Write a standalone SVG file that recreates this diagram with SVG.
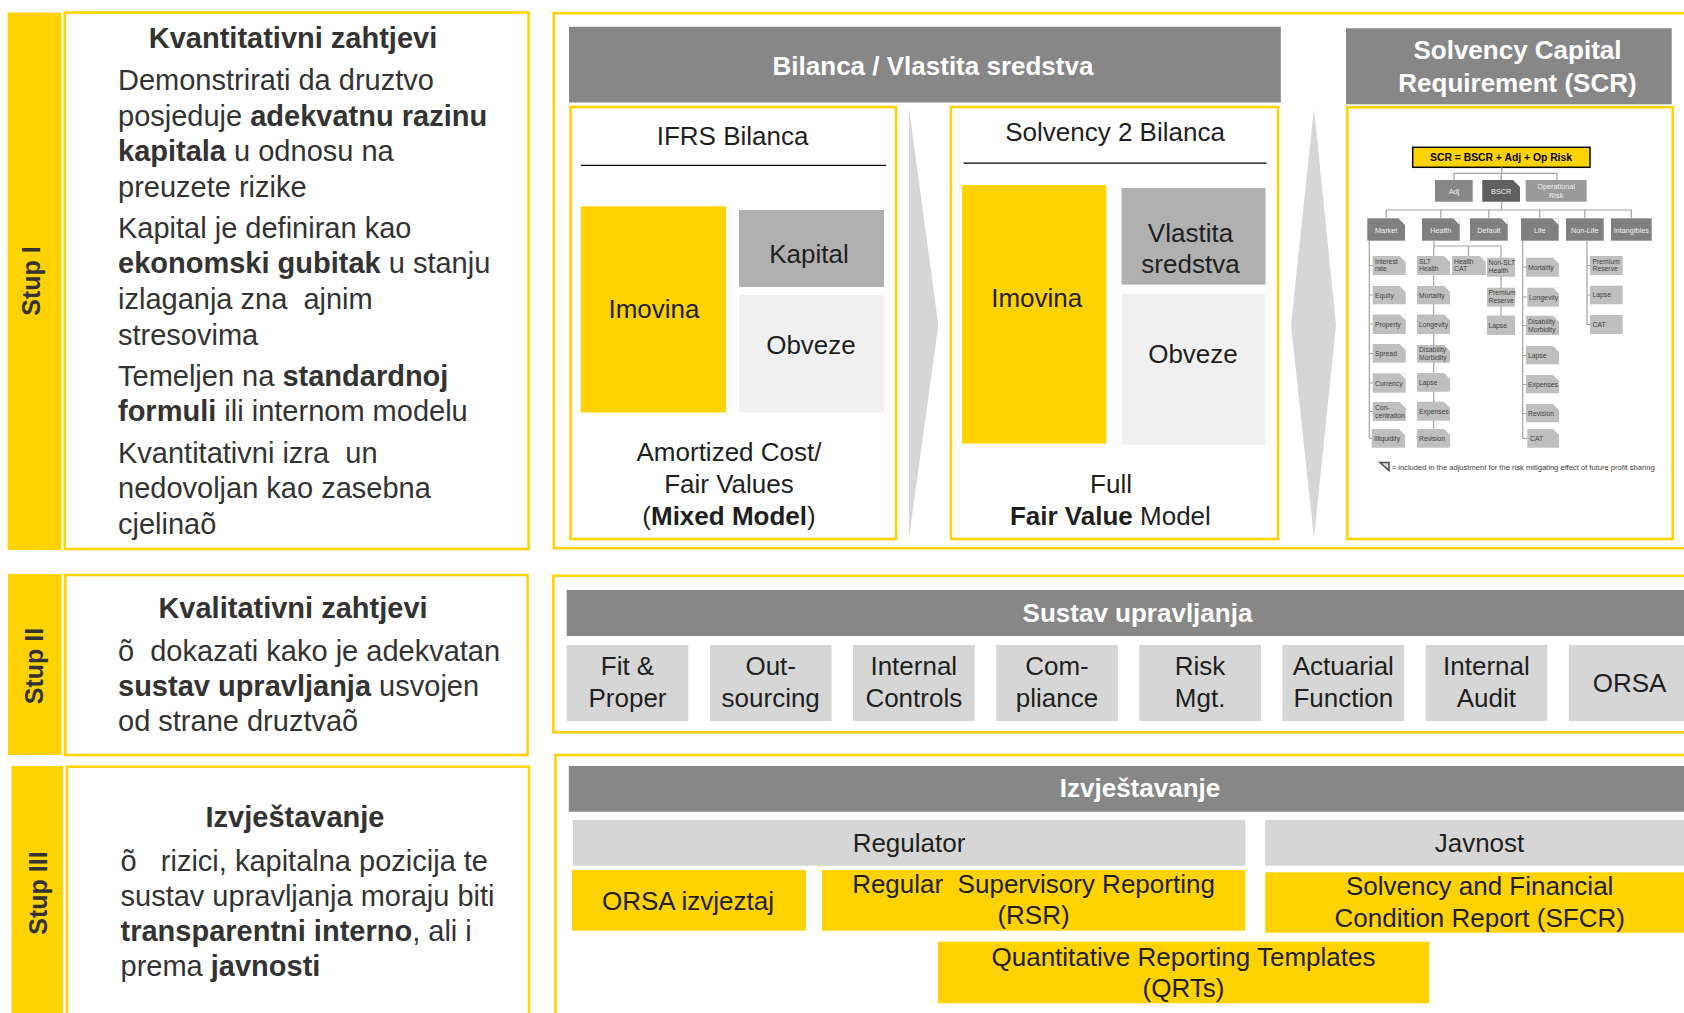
<svg xmlns="http://www.w3.org/2000/svg" width="1684" height="1013" viewBox="0 0 1684 1013">
  <style>
    text { font-family: "Liberation Sans", Arial, Helvetica, sans-serif; }
    .bar { fill: #FFD200; }
    .frame { fill: #fff; stroke: #FFD200; stroke-width: 2.5; }
    .stup { font-size: 25px; font-weight: bold; fill: #333; text-anchor: middle; }
    .ttl { font-size: 29px; font-weight: bold; fill: #333; text-anchor: middle; }
    .bd { font-size: 29px; fill: #333; }
    .b { font-weight: bold; }
    .hdr { fill: #878787; }
    .hdrt { font-size: 26px; font-weight: bold; fill: #fff; text-anchor: middle; }
    .mt { font-size: 26px; fill: #1f1f1f; text-anchor: middle; }
    .yel { fill: #FFD200; }
    .kap { fill: #b0b0b0; }
    .obv { fill: #f0f0f0; }
    .item { fill: #d6d6d6; }
    .arrow { fill: #d6d6d6; }
    .rule { stroke: #000; stroke-width: 1.3; }
    .dk { fill: #808080; }
    .lf { fill: #bfbfbf; }
    .cn { fill: #fff; }
    .wt { font-size: 7.3px; fill: #f2f2f2; text-anchor: middle; }
    .lt { font-size: 6.8px; fill: #404040; }
    .conn { stroke: #a3a3a3; stroke-width: 1.2; fill: none; }
  </style>

  <!-- Pillar I -->
  <g id="stup1">
    <rect class="bar" x="7.6" y="12.5" width="53.7" height="537.5"/>
    <text class="stup" transform="translate(40 281) rotate(-90)" font-size="24">Stup I</text>
    <rect class="frame" x="64.7" y="12.5" width="463.9" height="536.5"/>
    <text class="ttl" x="293" y="48">Kvantitativni zahtjevi</text>
    <text class="bd" x="118" y="90">Demonstrirati da druztvo</text>
    <text class="bd" x="118" y="126">posjeduje <tspan class="b">adekvatnu razinu</tspan></text>
    <text class="bd" x="118" y="161"><tspan class="b">kapitala</tspan> u odnosu na</text>
    <text class="bd" x="118" y="197">preuzete rizike</text>
    <text class="bd" x="118" y="238">Kapital je definiran kao</text>
    <text class="bd" x="118" y="273"><tspan class="b">ekonomski gubitak</tspan> u stanju</text>
    <text class="bd" x="118" y="309">izlaganja zna&#160; ajnim</text>
    <text class="bd" x="118" y="345">stresovima</text>
    <text class="bd" x="118" y="386">Temeljen na <tspan class="b">standardnoj</tspan></text>
    <text class="bd" x="118" y="421"><tspan class="b">formuli</tspan> ili internom modelu</text>
    <text class="bd" x="118" y="463">Kvantitativni izra&#160; un</text>
    <text class="bd" x="118" y="498">nedovoljan kao zasebna</text>
    <text class="bd" x="118" y="534">cjelinaõ</text>
  </g>

  <!-- Pillar II -->
  <g id="stup2">
    <rect class="bar" x="8" y="574" width="53.6" height="181"/>
    <text class="stup" transform="translate(43 666) rotate(-90)">Stup II</text>
    <rect class="frame" x="65.3" y="575" width="462.3" height="180"/>
    <text class="ttl" x="293" y="618">Kvalitativni zahtjevi</text>
    <text class="bd" x="118" y="661">õ&#160; dokazati kako je adekvatan</text>
    <text class="bd" x="118" y="696"><tspan class="b">sustav upravljanja</tspan> usvojen</text>
    <text class="bd" x="118" y="731">od strane druztvaõ</text>
  </g>

  <!-- Pillar III -->
  <g id="stup3">
    <rect class="bar" x="11.5" y="766" width="51.5" height="260"/>
    <text class="stup" transform="translate(47 893) rotate(-90)" font-size="26">Stup III</text>
    <rect class="frame" x="67" y="766.7" width="462" height="270"/>
    <text class="ttl" x="295" y="827">Izvještavanje</text>
    <text class="bd" x="120.5" y="871">õ&#160;&#160; rizici, kapitalna pozicija te</text>
    <text class="bd" x="120.5" y="906">sustav upravljanja moraju biti</text>
    <text class="bd" x="120.5" y="941"><tspan class="b">transparentni interno</tspan>, ali i</text>
    <text class="bd" x="120.5" y="976">prema <tspan class="b">javnosti</tspan></text>
  </g>

  <!-- Balance sheet / own funds panel -->
  <g id="bilanca">
    <rect class="frame" x="553.8" y="13.2" width="1200" height="535"/>
    <rect class="hdr" x="569" y="26.8" width="711.8" height="75.7"/>
    <text class="hdrt" x="933" y="75" font-size="26.5">Bilanca / Vlastita sredstva</text>
  </g>

  <g id="ifrs">
    <rect class="frame" x="570.6" y="107" width="325.4" height="432"/>
    <text class="mt" x="732.6" y="145">IFRS Bilanca</text>
    <line class="rule" x1="580.8" y1="165.4" x2="886" y2="165.4"/>
    <rect class="yel" x="580.8" y="206.4" width="145.2" height="206.1"/>
    <text class="mt" x="654" y="318" font-size="26.5">Imovina</text>
    <rect class="kap" x="739" y="210" width="145" height="77"/>
    <text class="mt" x="809" y="262.5" font-size="26.5">Kapital</text>
    <rect class="obv" x="739" y="295" width="145" height="117.5"/>
    <text class="mt" x="811" y="353.6" font-size="26.5">Obveze</text>
    <text class="mt" x="729" y="461">Amortized Cost/</text>
    <text class="mt" x="729" y="493">Fair Values</text>
    <text class="mt" x="729" y="525">(<tspan class="b">Mixed Model</tspan>)</text>
  </g>

  <g id="solvency2">
    <rect class="frame" x="951" y="107" width="327" height="432"/>
    <text class="mt" x="1115" y="141">Solvency 2 Bilanca</text>
    <line class="rule" x1="963.5" y1="163.2" x2="1266.5" y2="163.2"/>
    <rect class="yel" x="962" y="185" width="144.3" height="258.6"/>
    <text class="mt" x="1036.7" y="307" font-size="26.5">Imovina</text>
    <rect class="kap" x="1121.6" y="188" width="143.9" height="96.6"/>
    <text class="mt" x="1190.5" y="242" font-size="26.5">Vlastita</text>
    <text class="mt" x="1190.5" y="273" font-size="26.5">sredstva</text>
    <rect class="obv" x="1121.6" y="294" width="143.9" height="151"/>
    <text class="mt" x="1193" y="362.5" font-size="26.5">Obveze</text>
    <text class="mt" x="1111" y="493">Full</text>
    <text class="mt" x="1110.4" y="525"><tspan class="b">Fair Value</tspan> Model</text>
  </g>

  <!-- Solvency Capital Requirement panel -->
  <g id="scr">
    <rect class="hdr" x="1346" y="28.3" width="325.7" height="76"/>
    <text class="hdrt" x="1517.5" y="59">Solvency Capital</text>
    <text class="hdrt" x="1517.5" y="91.7">Requirement (SCR)</text>
    <rect class="frame" x="1347.3" y="107.3" width="325.4" height="431.7"/>
  </g>

  <!-- SCR module tree -->
  <g id="scr-tree">
    <g id="scr-formula">
      <rect x="1412.7" y="147.3" width="177.3" height="20" fill="#FFD200" stroke="#000" stroke-width="1.5"/>
      <text x="1501" y="160.8" font-size="10.6" font-weight="bold" fill="#000" text-anchor="middle" textLength="142" lengthAdjust="spacingAndGlyphs">SCR = BSCR + Adj + Op Risk</text>
    </g>
    <g id="adj">
      <rect x="1435" y="180" width="37.7" height="21.7" fill="#878787"/>
      <text class="wt" x="1453.9" y="193.5">Adj</text>
    </g>
    <g id="bscr">
      <rect x="1482.3" y="180" width="37.7" height="21.7" fill="#5f5f5f"/>
      <polygon class="cn" points="1513,180 1520,180 1520,187"/>
      <text class="wt" x="1501.2" y="193.5">BSCR</text>
    </g>
    <g id="oprisk">
      <rect x="1525.7" y="180" width="61" height="21.7" fill="#9a9a9a"/>
      <text class="wt" x="1556.2" y="189.3" fill="#e6e6e6">Operational</text>
      <text class="wt" x="1556.2" y="198.3" fill="#e6e6e6">Risk</text>
    </g>

    <g id="market">
      <rect class="dk" x="1367.3" y="218.3" width="37.7" height="22.4"/>
      <polygon class="cn" points="1398.3,218.3 1405,218.3 1405,225"/>
      <text class="wt" x="1386.2" y="232.5">Market</text>
    </g>
    <g id="health">
      <rect class="dk" x="1422" y="218.3" width="37.7" height="22.4"/>
      <polygon class="cn" points="1453,218.3 1459.7,218.3 1459.7,225"/>
      <text class="wt" x="1440.8" y="232.5">Health</text>
    </g>
    <g id="default">
      <rect class="dk" x="1470" y="218.3" width="37.7" height="22.4"/>
      <polygon class="cn" points="1501,218.3 1507.7,218.3 1507.7,225"/>
      <text class="wt" x="1488.8" y="232.5">Default</text>
    </g>
    <g id="life">
      <rect class="dk" x="1521" y="218.3" width="37.7" height="22.4"/>
      <polygon class="cn" points="1552,218.3 1558.7,218.3 1558.7,225"/>
      <text class="wt" x="1539.8" y="232.5">Life</text>
    </g>
    <g id="nonlife">
      <rect class="dk" x="1566" y="218.3" width="37.7" height="22.4"/>
      <text class="wt" x="1584.8" y="232.5">Non-Life</text>
    </g>
    <g id="intangibles">
      <rect class="dk" x="1611" y="218.3" width="40.7" height="22.4"/>
      <text class="wt" x="1631.3" y="232.5">Intangibles</text>
    </g>

    <!-- tree connectors -->
    <g id="tree-connectors" class="conn">
      <path d="M1501.7 167.3V173.3M1454 180V173.3H1557V180M1501.2 173.3V180"/>
      <path d="M1501.7 201.7V210M1386.2 218.3V210H1631.3V218.3M1440.8 210V218.3M1488.8 210V218.3M1539.8 210V218.3M1584.8 210V218.3"/>
      <path d="M1369.3 240.7V438.5M1369.3 265.5H1372.7M1369.3 295H1372.7M1369.3 324H1372.7M1369.3 353.5H1372.7M1369.3 383H1372.7M1369.3 411.5H1372.7M1369.3 438.5H1372.7"/>
      <path d="M1434 240.7V246H1501M1433.7 246V438M1468.5 246V256M1501 246V325"/>
      <path d="M1522.7 240.7V438.5M1522.7 267H1526M1522.7 297H1527.3M1522.7 325.5H1526M1522.7 355.5H1526M1522.7 384.5H1526M1522.7 413.5H1526M1522.7 438.5H1527.3"/>
      <path d="M1587 240.7V324.5M1587 265.5H1590M1587 295H1590M1587 324.5H1590"/>
    </g>

    <!-- market risk sub-modules -->
    <g id="mkt-interest"><rect class="lf" x="1372.7" y="256" width="33" height="19"/><polygon class="cn" points="1399.7,256 1405.7,256 1405.7,262"/><text class="lt" x="1375" y="263.5">Interest</text><text class="lt" x="1375" y="271">rate</text></g>
    <g id="mkt-equity"><rect class="lf" x="1372.7" y="286" width="33" height="18.3"/><polygon class="cn" points="1399.7,286 1405.7,286 1405.7,292"/><text class="lt" x="1375" y="297.5">Equity</text></g>
    <g id="mkt-property"><rect class="lf" x="1372.7" y="314.5" width="33" height="19.5"/><polygon class="cn" points="1399.7,314.5 1405.7,314.5 1405.7,320.5"/><text class="lt" x="1375" y="326.5">Property</text></g>
    <g id="mkt-spread"><rect class="lf" x="1372.7" y="344" width="33" height="18.7"/><polygon class="cn" points="1399.7,344 1405.7,344 1405.7,350"/><text class="lt" x="1375" y="356">Spread</text></g>
    <g id="mkt-currency"><rect class="lf" x="1372.7" y="373.3" width="33" height="19.4"/><polygon class="cn" points="1399.7,373.3 1405.7,373.3 1405.7,379.3"/><text class="lt" x="1375" y="385.5">Currency</text></g>
    <g id="mkt-concentration"><rect class="lf" x="1372.7" y="402" width="33" height="19"/><polygon class="cn" points="1399.7,402 1405.7,402 1405.7,408"/><text class="lt" x="1375" y="409.5">Con-</text><text class="lt" x="1375" y="417.5">centration</text></g>
    <g id="mkt-illiquidity"><rect class="lf" x="1371.7" y="429" width="33.3" height="18.7"/><polygon class="cn" points="1399,429 1405,429 1405,435"/><text class="lt" x="1374" y="441">Illiquidity</text></g>

    <!-- health risk sub-modules -->
    <g id="hlt-slt"><rect class="lf" x="1417" y="256" width="33" height="19"/><polygon class="cn" points="1444,256 1450,256 1450,262"/><text class="lt" x="1419" y="263.5">SLT</text><text class="lt" x="1419" y="271">Health</text></g>
    <g id="hlt-cat"><rect class="lf" x="1452" y="256" width="33.7" height="19"/><polygon class="cn" points="1479.7,256 1485.7,256 1485.7,262"/><text class="lt" x="1454" y="263.5">Health</text><text class="lt" x="1454" y="271">CAT</text></g>
    <g id="hlt-nonslt"><rect class="lf" x="1487" y="257.7" width="28" height="19"/><text class="lt" x="1488.5" y="265">Non-SLT</text><text class="lt" x="1488.5" y="272.7">Health</text></g>
    <g id="hlt-mortality"><rect class="lf" x="1417" y="286" width="33" height="18.3"/><polygon class="cn" points="1444,286 1450,286 1450,292"/><text class="lt" x="1419" y="297.5">Mortality</text></g>
    <g id="hlt-longevity"><rect class="lf" x="1417" y="314.5" width="33" height="19.5"/><polygon class="cn" points="1444,314.5 1450,314.5 1450,320.5"/><text class="lt" x="1419" y="326.5">Longevity</text></g>
    <g id="hlt-disability"><rect class="lf" x="1417" y="345" width="33" height="17.7"/><polygon class="cn" points="1444,345 1450,345 1450,351"/><text class="lt" x="1419" y="352">Disability</text><text class="lt" x="1419" y="359.5">Morbidity</text></g>
    <g id="hlt-lapse"><rect class="lf" x="1417" y="373" width="33" height="18.7"/><polygon class="cn" points="1444,373 1450,373 1450,379"/><text class="lt" x="1419" y="385">Lapse</text></g>
    <g id="hlt-expenses"><rect class="lf" x="1417" y="401.7" width="33" height="19"/><polygon class="cn" points="1444,401.7 1450,401.7 1450,407.7"/><text class="lt" x="1419" y="413.5">Expenses</text></g>
    <g id="hlt-revision"><rect class="lf" x="1417" y="429" width="33" height="18.7"/><polygon class="cn" points="1444,429 1450,429 1450,435"/><text class="lt" x="1419" y="441">Revision</text></g>
    <g id="hlt-premium"><rect class="lf" x="1487" y="287.7" width="28" height="19"/><text class="lt" x="1488.5" y="295">Premium</text><text class="lt" x="1488.5" y="302.7">Reserve</text></g>
    <g id="hlt-nonslt-lapse"><rect class="lf" x="1487" y="315.5" width="28" height="19.5"/><text class="lt" x="1488.5" y="327.5">Lapse</text></g>

    <!-- life risk sub-modules -->
    <g id="life-mortality"><rect class="lf" x="1526" y="257.7" width="33" height="19"/><polygon class="cn" points="1553,257.7 1559,257.7 1559,263.7"/><text class="lt" x="1528" y="269.5">Mortality</text></g>
    <g id="life-longevity"><rect class="lf" x="1527.3" y="287.7" width="31.7" height="19"/><polygon class="cn" points="1553,287.7 1559,287.7 1559,293.7"/><text class="lt" x="1529" y="299.5">Longevity</text></g>
    <g id="life-disability"><rect class="lf" x="1526" y="315.7" width="33" height="19.3"/><polygon class="cn" points="1553,315.7 1559,315.7 1559,321.7"/><text class="lt" x="1528" y="323.5">Disability</text><text class="lt" x="1528" y="331.5">Morbidity</text></g>
    <g id="life-lapse"><rect class="lf" x="1526" y="346" width="33" height="18.3"/><polygon class="cn" points="1553,346 1559,346 1559,352"/><text class="lt" x="1528" y="357.5">Lapse</text></g>
    <g id="life-expenses"><rect class="lf" x="1526" y="375" width="33" height="18.3"/><polygon class="cn" points="1553,375 1559,375 1559,381"/><text class="lt" x="1528" y="386.5">Expenses</text></g>
    <g id="life-revision"><rect class="lf" x="1526" y="404" width="33" height="18.3"/><polygon class="cn" points="1553,404 1559,404 1559,410"/><text class="lt" x="1528" y="415.5">Revision</text></g>
    <g id="life-cat"><rect class="lf" x="1527.3" y="429" width="31.7" height="18.7"/><polygon class="cn" points="1553,429 1559,429 1559,435"/><text class="lt" x="1530" y="441">CAT</text></g>

    <!-- non-life risk sub-modules -->
    <g id="nl-premium"><rect class="lf" x="1590" y="256" width="32.7" height="19"/><text class="lt" x="1592.5" y="263.5">Premium</text><text class="lt" x="1592.5" y="271">Reserve</text></g>
    <g id="nl-lapse"><rect class="lf" x="1590" y="285.7" width="32.7" height="18.6"/><text class="lt" x="1592.5" y="297.3">Lapse</text></g>
    <g id="nl-cat"><rect class="lf" x="1590" y="315" width="32.7" height="19"/><text class="lt" x="1592.5" y="327">CAT</text></g>

    <g id="legend">
      <polygon points="1380,462.5 1389,462.5 1389,470.5" fill="#dcdcdc" stroke="#505050" stroke-width="1.5" stroke-linejoin="miter"/>
      <text class="lt" x="1391.7" y="470" font-size="7" textLength="263" lengthAdjust="spacingAndGlyphs">= included in the adjustment for the risk mitigating effect of future profit sharing</text>
    </g>
  </g>

  <!-- flow arrows between the panels -->
  <g id="connectors">
    <polygon class="arrow" points="909,108 938.3,325 909,538"/>
    <polygon class="arrow" points="1314,108 1336,325 1314,538 1291,325"/>
  </g>

  <!-- System of governance -->
  <g id="sustav">
    <rect class="frame" x="553.3" y="575.7" width="1200" height="156.6"/>
    <rect class="hdr" x="566.7" y="590" width="1200" height="46"/>
    <text class="hdrt" x="1137.5" y="621.7">Sustav upravljanja</text>
  </g>
  <g id="fit-proper"><rect class="item" x="566.7" y="645" width="121.7" height="76"/><text class="mt" x="627.5" y="675">Fit &amp;</text><text class="mt" x="627.5" y="706.7">Proper</text></g>
  <g id="outsourcing"><rect class="item" x="709.85" y="645" width="121.7" height="76"/><text class="mt" x="770.7" y="675">Out-</text><text class="mt" x="770.7" y="706.7">sourcing</text></g>
  <g id="internal-controls"><rect class="item" x="853" y="645" width="121.7" height="76"/><text class="mt" x="913.8" y="675">Internal</text><text class="mt" x="913.8" y="706.7">Controls</text></g>
  <g id="compliance"><rect class="item" x="996.15" y="645" width="121.7" height="76"/><text class="mt" x="1057" y="675">Com-</text><text class="mt" x="1057" y="706.7">pliance</text></g>
  <g id="risk-mgt"><rect class="item" x="1139.3" y="645" width="121.7" height="76"/><text class="mt" x="1200.1" y="675">Risk</text><text class="mt" x="1200.1" y="706.7">Mgt.</text></g>
  <g id="actuarial"><rect class="item" x="1282.45" y="645" width="121.7" height="76"/><text class="mt" x="1343.3" y="675">Actuarial</text><text class="mt" x="1343.3" y="706.7">Function</text></g>
  <g id="internal-audit"><rect class="item" x="1425.6" y="645" width="121.7" height="76"/><text class="mt" x="1486.4" y="675">Internal</text><text class="mt" x="1486.4" y="706.7">Audit</text></g>
  <g id="orsa"><rect class="item" x="1568.75" y="645" width="121.7" height="76"/><text class="mt" x="1629.6" y="691.7">ORSA</text></g>

  <!-- Reporting -->
  <g id="izvjestavanje">
    <rect class="frame" x="555.4" y="755" width="1200" height="300"/>
    <rect class="hdr" x="568.8" y="766" width="1200" height="45.7"/>
    <text class="hdrt" x="1140" y="797.3">Izvještavanje</text>
  </g>
  <g id="regulator"><rect class="item" x="573" y="820" width="672.3" height="45.7"/><text class="mt" x="909" y="851.7">Regulator</text></g>
  <g id="javnost"><rect class="item" x="1265.2" y="820" width="430" height="45.7"/><text class="mt" x="1479.5" y="851.7">Javnost</text></g>
  <g id="orsa-report"><rect class="yel" x="572" y="870" width="234" height="60.7"/><text class="mt" x="688" y="910">ORSA izvjeztaj</text></g>
  <g id="rsr"><rect class="yel" x="822" y="870" width="423.3" height="60.7"/><text class="mt" x="1033.5" y="893.3">Regular&#160; Supervisory Reporting</text><text class="mt" x="1033.5" y="924">(RSR)</text></g>
  <g id="sfcr"><rect class="yel" x="1265.2" y="872.3" width="430" height="60.4"/><text class="mt" x="1479.7" y="895">Solvency and Financial</text><text class="mt" x="1479.7" y="926.7">Condition Report (SFCR)</text></g>
  <g id="qrt"><rect class="yel" x="938" y="941.7" width="491.3" height="61.6"/><text class="mt" x="1183.5" y="966">Quantitative Reporting Templates</text><text class="mt" x="1183.5" y="996.7">(QRTs)</text></g>
</svg>
